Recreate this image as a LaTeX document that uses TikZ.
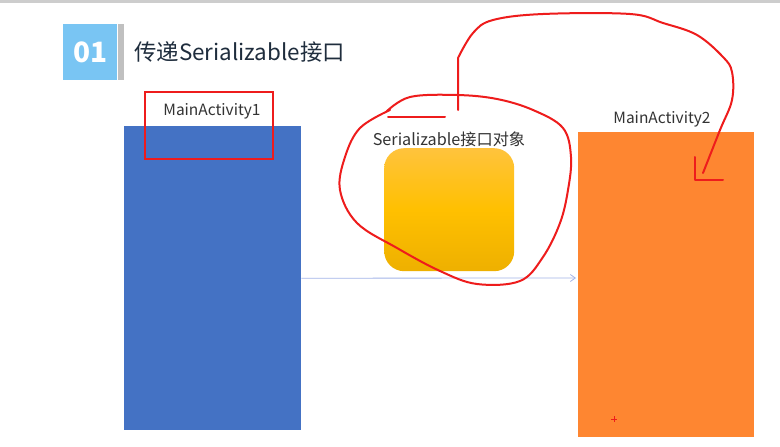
\documentclass[tikz,border=0pt]{standalone}
\usepackage{fontspec}
\setmainfont{Noto Sans CJK SC}
\usetikzlibrary{arrows.meta}
\definecolor{barblue}{HTML}{79C5F3}
\definecolor{bargray}{HTML}{C0C0C0}
\definecolor{titlecol}{HTML}{1F2D3D}
\definecolor{actblue}{HTML}{4472C4}
\definecolor{actorange}{HTML}{FE8631}
\definecolor{arrowblue}{HTML}{A4B4E8}
\definecolor{ink}{HTML}{EE1C1C}
\definecolor{labelcol}{HTML}{333333}
\definecolor{goldtop}{HTML}{FFC33D}
\definecolor{goldmid}{HTML}{FFC000}
\definecolor{goldbot}{HTML}{EEB000}
\tikzset{
  actbox/.style={draw=none, inner sep=0pt, anchor=north west},
  lbl/.style={font=\fontsize{15.5}{18}\selectfont, text=labelcol, inner sep=0pt},
  pen/.style={draw=ink, line width=2pt, line cap=round, line join=round},
}
\begin{document}
\begin{tikzpicture}[x=1pt,y=-1pt]
\useasboundingbox (0,0) rectangle (780,447);
\fill[white] (0,0) rectangle (780,447);
% top gray line
\fill[bargray!80] (0,0) rectangle (780,3);
% header
\node[actbox, fill=barblue, minimum width=54pt, minimum height=56pt] (num) at (63,24) {};
\node[font=\bfseries\fontsize{28}{30}\selectfont, text=white, inner sep=0pt] at (num.center) {01};
\node[actbox, fill=bargray, minimum width=6pt, minimum height=56pt] (sep) at (118,24) {};
\node[font=\fontsize{22.4}{26}\selectfont, text=titlecol, anchor=west, inner sep=0pt] (title) at (134,52) {传递Serializable接口};
% activities
\node[actbox, fill=actblue, minimum width=177pt, minimum height=304pt] (act1) at (124,126) {};
\node[actbox, fill=actorange, minimum width=176pt, minimum height=305pt] (act2) at (578,132) {};
\node[lbl] (l1) at (212,111) {MainActivity1};
\node[lbl] (l2) at (662,119) {MainActivity2};
% object
\node[lbl, font=\fontsize{16.2}{18}\selectfont] (lobj) at (449,139) {Serializable接口对象};
\node[actbox, minimum width=130pt, minimum height=123pt, rounded corners=20pt,
      top color=goldtop, bottom color=goldbot, middle color=goldmid] (obj) at (384,148) {};
% arrow
\coordinate (aend) at (576,278);
\draw[arrowblue, line width=0.8pt, -{Straight Barb[length=5pt,width=7pt]}] (act1.east) -- (aend);
% red annotations
\node[actbox, draw=ink, line width=2pt, minimum width=128pt, minimum height=67pt] (mark) at (144,91) {};
\draw[pen] plot[smooth, tension=0.6] coordinates {(386,112) (410,97) (457,95) (497,99) (533,110) (563,128) (571,157) (568,190) (560,223) (543,257) (520,281) (477,284) (440,271) (397,248) (357,223) (340,190) (345,157) (360,128) (390,110)};
\draw[pen] (388,117) -- (445,117);
\draw[pen] (458,110) -- (458,58) plot[smooth, tension=0.6] coordinates {(458,58) (473,33) (493,20) (543,14) (630,14) (663,23) (697,35) (723,57) (732,72) (732,100) (720,130) (703,173)};
\draw[pen] (695,157) -- (695,180) -- (723,180);
\draw[ink, line width=0.8pt] (611,419) -- (617,419) (614,416) -- (614,422);
\end{tikzpicture}
\end{document}
